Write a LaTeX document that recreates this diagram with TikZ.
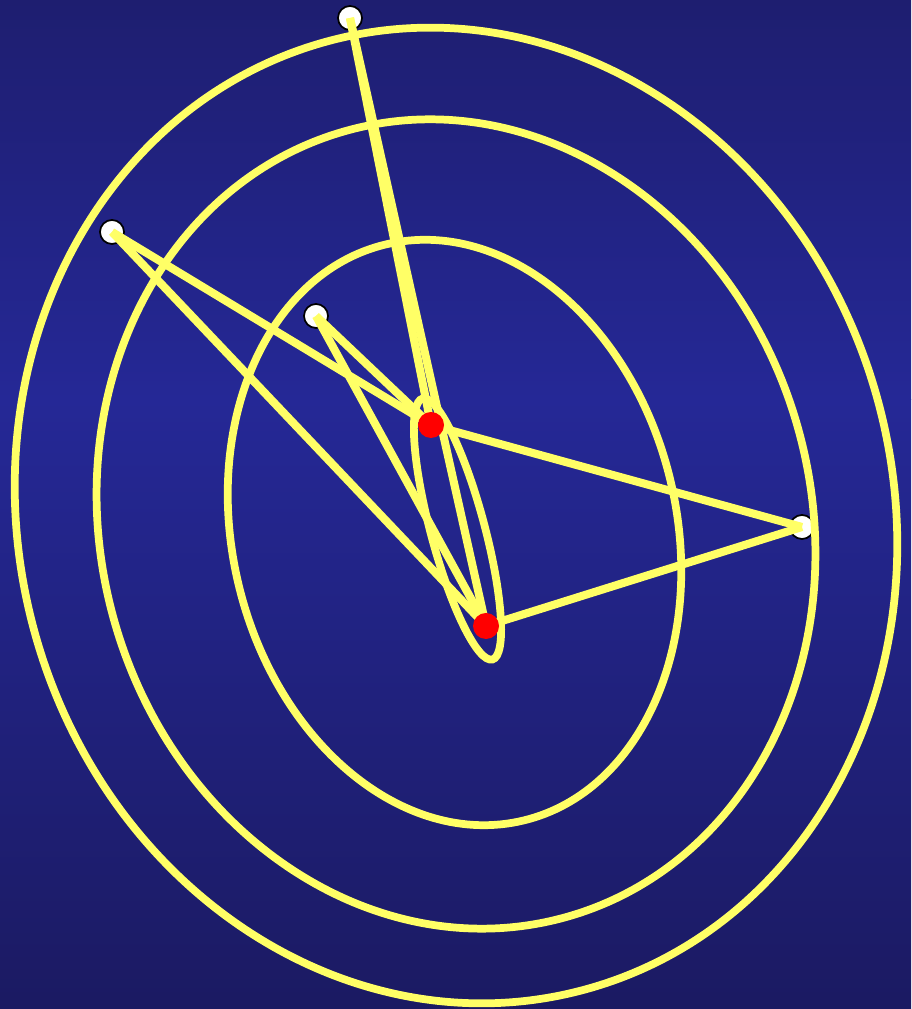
\documentclass[tikz,border=0pt]{standalone}
\usepackage{xcolor}
\usepackage{tikz}
\usetikzlibrary{positioning, calc}

\definecolor{bgtop}{RGB}{30,30,112}
\definecolor{bgmid}{RGB}{37,40,150}
\definecolor{bgbot}{RGB}{27,26,98}
\definecolor{lineyellow}{RGB}{255,255,102}

\begin{document}
\begin{tikzpicture}[
    x=0.01cm, y=0.01cm,
    orbit/.style={draw=lineyellow, line width=2.2pt},
    ray/.style={draw=lineyellow, line width=2.3pt},
    point/.style={circle, draw=black, fill=white, line width=0.5pt, minimum size=0.24cm, inner sep=0pt},
    focus/.style={circle, fill=red, minimum size=0.26cm, inner sep=0pt}
]
\useasboundingbox (0,0) rectangle (911,1009);
\shade[top color=bgtop, bottom color=bgmid] (0,609) rectangle (911,1009);
\shade[top color=bgmid, bottom color=bgbot] (0,0) rectangle (911,609);

% foci
\coordinate (f1) at (431,584);
\coordinate (f2) at (486,383);

% points on the orbits
\node[point] (p1) at (350,991) {};
\node[point] (p2) at (112,777) {};
\node[point] (p3) at (316,693) {};
\node[point] (p4) at (802,482) {};

% orbits
\draw[orbit, rotate around={15.2:(456,493.5)}] (456,493.5) ellipse [x radius=4.37cm, y radius=4.91cm];
\draw[orbit, rotate around={15.7:(456,485)}] (456,485) ellipse [x radius=3.55cm, y radius=4.08cm];
\draw[orbit, rotate around={13.4:(454.5,476.5)}] (454.5,476.5) ellipse [x radius=2.22cm, y radius=2.96cm];
\draw[orbit, rotate around={15:(457.5,480)}] (457.5,480) ellipse [x radius=0.27cm, y radius=1.35cm];

% rays to both foci
\foreach \p in {p1,p2,p3,p4} {
    \draw[ray] (\p.center) -- (f1);
    \draw[ray] (\p.center) -- (f2);
}

\node[focus] (focus1) at (f1) {};
\node[focus] (focus2) at (f2) {};
\end{tikzpicture}
\end{document}
